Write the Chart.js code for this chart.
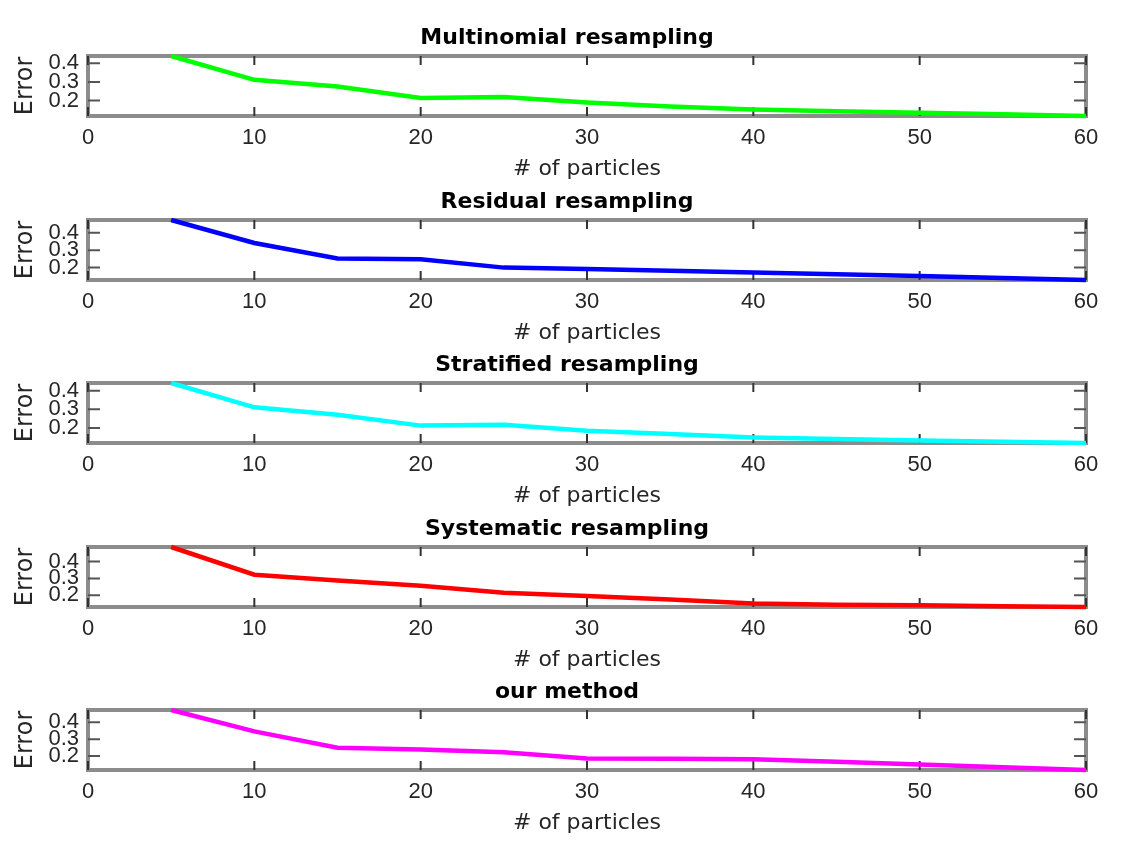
<!DOCTYPE html>
<html>
<head>
<meta charset="utf-8">
<script src="https://cdn.jsdelivr.net/npm/chart.js@4.4.1/dist/chart.umd.min.js"></script>
<style>
  html, body { margin: 0; padding: 0; background: #fff; }
  #page { position: relative; width: 1136px; height: 850px; overflow: hidden; }
  .panel { position: absolute; left: 0; width: 1136px; height: 185px; }
</style>
</head>
<body>
<div id="page"></div>
<script>
// number of particles (x) and error per resampling method
const particles = [5, 10, 15, 20, 25, 30, 35, 40, 45, 50, 55, 60];
const multinomialErr = [0.439, 0.311, 0.275, 0.214, 0.219, 0.190, 0.168, 0.152, 0.142, 0.134, 0.126, 0.117];
const residualErr    = [0.473, 0.341, 0.252, 0.248, 0.200, 0.192, 0.182, 0.172, 0.162, 0.152, 0.141, 0.129];
const stratifiedErr  = [0.441, 0.311, 0.271, 0.213, 0.218, 0.186, 0.168, 0.150, 0.141, 0.134, 0.127, 0.120];
const systematicErr  = [0.486, 0.322, 0.288, 0.257, 0.216, 0.196, 0.176, 0.151, 0.145, 0.141, 0.135, 0.131];
const ourErr         = [0.472, 0.346, 0.249, 0.239, 0.223, 0.186, 0.184, 0.181, 0.167, 0.151, 0.134, 0.118];

const titles = ['Multinomial resampling', 'Residual resampling', 'Stratified resampling', 'Systematic resampling', 'our method'];
const series = [multinomialErr, residualErr, stratifiedErr, systematicErr, ourErr];
const colors = ['#00ff00', '#0000ff', '#00ffff', '#ff0000', '#ff00ff'];
const yTicks = [0.2, 0.3, 0.4];
const xTicks = [0, 10, 20, 30, 40, 50, 60];

// matlab style box with inward ticks on all four sides
const matlabAxes = {
  id: 'matlabAxes',
  beforeDatasetsDraw(chart) {
    const { ctx, chartArea: a, scales: { x, y } } = chart;
    ctx.save();
    ctx.strokeStyle = '#8c8c8c';
    ctx.lineWidth = 4;
    ctx.strokeRect(a.left, a.top, a.right - a.left, a.bottom - a.top);
    ctx.lineWidth = 2;
    ctx.strokeStyle = '#333';
    ctx.beginPath();
    x.ticks.forEach(t => {
      const px = x.getPixelForValue(t.value);
      ctx.moveTo(px, a.top); ctx.lineTo(px, a.top + 9);
      ctx.moveTo(px, a.bottom); ctx.lineTo(px, a.bottom - 9);
    });
    ctx.stroke();
    ctx.strokeStyle = '#555';
    ctx.beginPath();
    y.ticks.forEach(t => {
      const py = y.getPixelForValue(t.value);
      ctx.moveTo(a.left, py); ctx.lineTo(a.left + 12, py);
      ctx.moveTo(a.right, py); ctx.lineTo(a.right - 12, py);
    });
    ctx.stroke();
    ctx.restore();
  }
};

const page = document.getElementById('page');
Chart.defaults.color = '#262626';

series.forEach((vals, i) => {
  const box = document.createElement('div');
  box.className = 'panel';
  box.style.top = (i * 163.5) + 'px';
  const cv = document.createElement('canvas');
  box.appendChild(cv);
  page.appendChild(box);

  new Chart(cv, {
    type: 'line',
    data: {
      datasets: [{
        data: particles.map((p, k) => ({ x: p, y: vals[k] })),
        borderColor: colors[i],
        borderWidth: 4.5,
        pointRadius: 0,
        tension: 0,
        clip: false
      }]
    },
    options: {
      responsive: true,
      maintainAspectRatio: false,
      animation: false,
      layout: { padding: { left: 48, right: 50, top: 0, bottom: 0 } },
      plugins: {
        legend: { display: false },
        tooltip: { enabled: false },
        title: {
          display: true,
          text: titles[i],
          color: '#000',
          font: { family: 'DejaVu Sans', size: 22, weight: 'bold' },
          padding: { top: 25, bottom: 4.6 }
        }
      },
      scales: {
        x: {
          type: 'linear',
          min: 0,
          max: 60,
          grid: { display: false, drawTicks: false },
          border: { display: false },
          afterBuildTicks: s => { s.ticks = xTicks.map(v => ({ value: v })); },
          afterFit: s => { s.height = 69; },
          ticks: { padding: 9, autoSkip: false, maxRotation: 0, font: { family: 'Liberation Sans', size: 22 } },
          title: {
            display: true,
            text: '# of particles',
            font: { family: 'DejaVu Sans', size: 22 },
            padding: { top: 0, bottom: 2.4 }
          }
        },
        y: {
          min: Math.min(...vals),
          max: Math.max(...vals),
          grid: { display: false, drawTicks: false },
          border: { display: false },
          afterBuildTicks: s => { s.ticks = yTicks.map(v => ({ value: v })); },
          afterFit: s => { s.width = 40; },
          ticks: {
            padding: 9,
            autoSkip: false,
            font: { family: 'Liberation Sans', size: 22 },
            callback: v => v.toFixed(1)
          },
          title: {
            display: true,
            text: 'Error',
            font: { family: 'DejaVu Sans', size: 24 },
            padding: { top: -36.7, bottom: 0 }
          }
        }
      }
    },
    plugins: [matlabAxes]
  });
});
</script>
</body>
</html>
